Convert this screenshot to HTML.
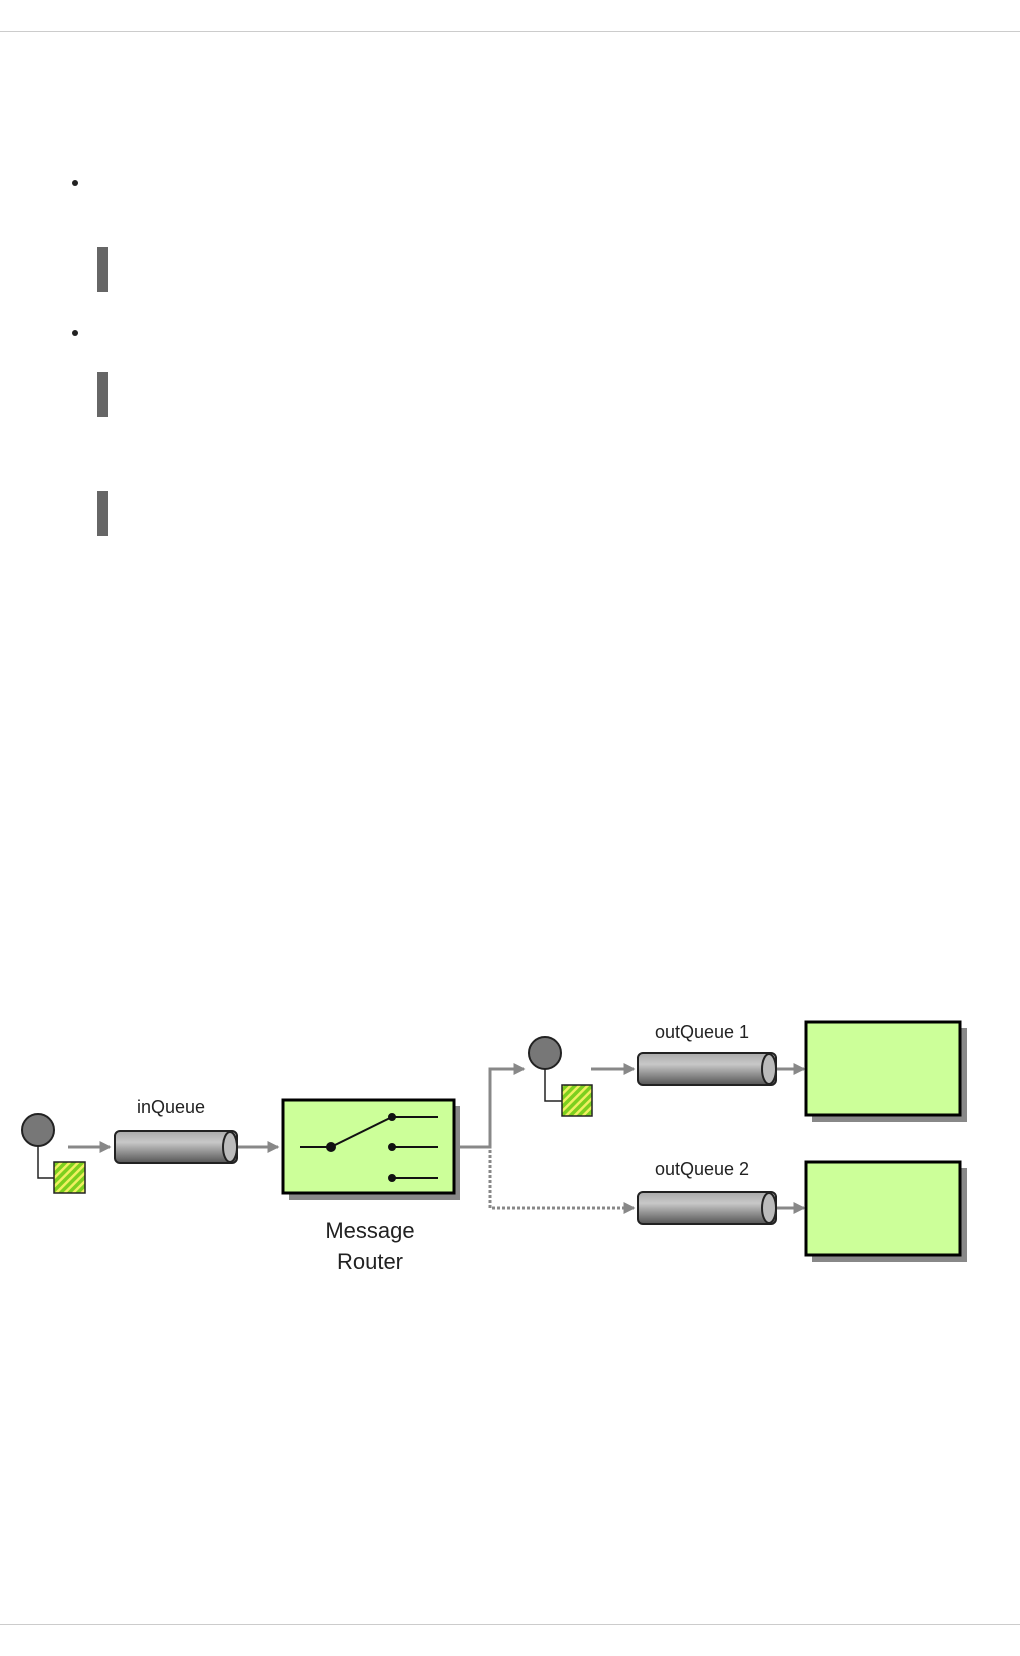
<!DOCTYPE html>
<html><head><style>
body{margin:0;background:#fff;width:1020px;height:1656px;position:relative;overflow:hidden;font-family:"Liberation Sans",sans-serif}
.hr{position:absolute;left:0;width:1020px;height:1px;background:#ccc}
.b{position:absolute;width:6px;height:6px;border-radius:50%;background:#222}
.bar{position:absolute;left:97px;width:11px;background:#666}
</style></head><body>
<div class="hr" style="top:31px"></div>
<div class="hr" style="top:1624px"></div>
<div class="b" style="left:72px;top:180px"></div>
<div class="b" style="left:72px;top:330px"></div>
<div class="bar" style="top:247px;height:45px"></div>
<div class="bar" style="top:372px;height:45px"></div>
<div class="bar" style="top:491px;height:45px"></div>
<svg width="1020" height="1656" style="position:absolute;left:0;top:0">
<defs>
<linearGradient id="cy" x1="0" y1="0" x2="0" y2="1">
<stop offset="0" stop-color="#aaa"/><stop offset="0.35" stop-color="#c8c8c8"/><stop offset="1" stop-color="#555"/></linearGradient>
<pattern id="h" width="6" height="6" patternUnits="userSpaceOnUse" patternTransform="rotate(-45)">
<rect width="6" height="6" fill="#7ccf1e"/><rect width="6" height="2.5" fill="#f0f060"/></pattern>
<marker id="a" markerWidth="4" markerHeight="4" refX="3.5" refY="2" orient="auto" markerUnits="strokeWidth"><path d="M0,0L4,2L0,4z" fill="#888"/></marker>
</defs>
<g stroke="#888" stroke-width="3" fill="none">
<line x1="68" y1="1147" x2="110" y2="1147" marker-end="url(#a)"/>
<line x1="238" y1="1147" x2="278" y2="1147" marker-end="url(#a)"/>
<polyline points="460,1147 490,1147 490,1069 524,1069" marker-end="url(#a)"/>
<line x1="591" y1="1069" x2="634" y2="1069" marker-end="url(#a)"/>
<line x1="776" y1="1069" x2="804" y2="1069" marker-end="url(#a)"/>
<line x1="776" y1="1208" x2="804" y2="1208" marker-end="url(#a)"/>
<polyline points="490,1150 490,1208 634,1208" stroke-dasharray="3,2" marker-end="url(#a)"/>
</g>
<polyline points="38,1140 38,1178 54,1178" fill="none" stroke="#222" stroke-width="1.5"/>
<circle cx="38" cy="1130" r="16" fill="#777" stroke="#222" stroke-width="2"/>
<rect x="54" y="1162" width="31" height="31" fill="url(#h)" stroke="#222" stroke-width="1.5"/>
<polyline points="545,1063 545,1101 562,1101" fill="none" stroke="#222" stroke-width="1.5"/>
<circle cx="545" cy="1053" r="16" fill="#777" stroke="#222" stroke-width="2"/>
<rect x="562" y="1085" width="30" height="31" fill="url(#h)" stroke="#222" stroke-width="1.5"/>
<g stroke="#222" stroke-width="2">
<rect x="115" y="1131" width="122" height="32" rx="5" fill="url(#cy)"/>
<ellipse cx="230" cy="1147" rx="7" ry="15" fill="#bbb"/>
<rect x="638" y="1053" width="138" height="32" rx="5" fill="url(#cy)"/>
<ellipse cx="769" cy="1069" rx="7" ry="15" fill="#bbb"/>
<rect x="638" y="1192" width="138" height="32" rx="5" fill="url(#cy)"/>
<ellipse cx="769" cy="1208" rx="7" ry="15" fill="#bbb"/>
</g>
<rect x="289" y="1106" width="171" height="94" fill="#888"/>
<rect x="283" y="1100" width="171" height="93" fill="#ccff99" stroke="#000" stroke-width="3"/>
<rect x="812" y="1028" width="155" height="94" fill="#888"/>
<rect x="806" y="1022" width="154" height="93" fill="#ccff99" stroke="#000" stroke-width="3"/>
<rect x="812" y="1168" width="155" height="94" fill="#888"/>
<rect x="806" y="1162" width="154" height="93" fill="#ccff99" stroke="#000" stroke-width="3"/>
<g stroke="#111" stroke-width="2" fill="#111">
<line x1="300" y1="1147" x2="331" y2="1147"/><line x1="331" y1="1147" x2="392" y2="1117"/>
<line x1="392" y1="1117" x2="438" y2="1117"/><line x1="392" y1="1147" x2="438" y2="1147"/><line x1="392" y1="1178" x2="438" y2="1178"/>
<circle cx="331" cy="1147" r="4"/><circle cx="392" cy="1117" r="3"/><circle cx="392" cy="1147" r="3"/><circle cx="392" cy="1178" r="3"/>
</g>
<g font-family="Liberation Sans, sans-serif" fill="#222" text-anchor="middle">
<text x="171" y="1113" font-size="18">inQueue</text>
<text x="702" y="1038" font-size="18">outQueue 1</text>
<text x="702" y="1175" font-size="18">outQueue 2</text>
<text x="370" y="1238" font-size="22">Message</text>
<text x="370" y="1269" font-size="22">Router</text>
</g>
</svg>
</body></html>
